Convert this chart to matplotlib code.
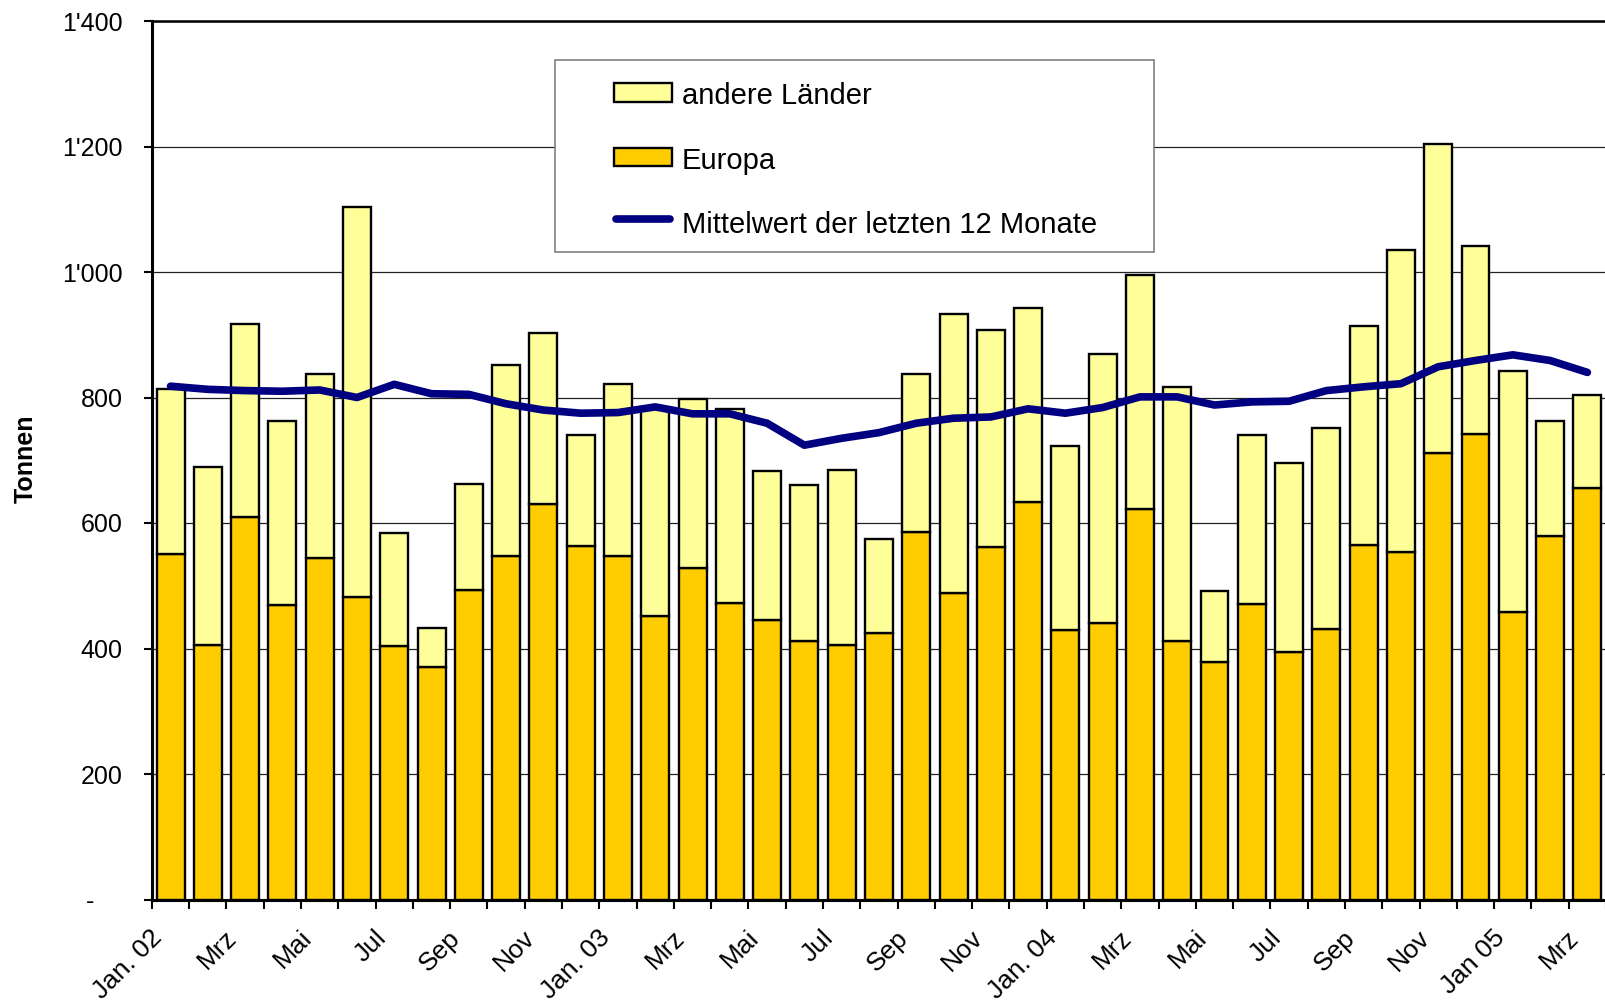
import numpy as np
import matplotlib
matplotlib.use('Agg')
import matplotlib.pyplot as plt
from matplotlib.patches import Rectangle
from matplotlib.lines import Line2D

plt.rcParams['font.family'] = ['Liberation Sans', 'DejaVu Sans']

# ---- data (Jan 2002 .. Mar 2005, tonnes) ----
europa = [550, 405, 609, 469, 544, 482, 404, 371, 493, 547, 631, 563,
          547, 451, 528, 472, 446, 412, 405, 424, 586, 489, 561, 633,
          429, 440, 623, 412, 378, 471, 395, 431, 565, 554, 711, 742,
          458, 580, 655]
andere = [264, 285, 308, 294, 294, 622, 180, 62, 169, 305, 272, 177,
          274, 331, 270, 309, 237, 249, 279, 150, 251, 444, 346, 309,
          293, 429, 373, 405, 114, 269, 301, 320, 349, 481, 493, 299,
          385, 182, 149]
mittelwert = [818, 813, 811, 810, 812, 800, 821, 806, 805, 790, 780, 775,
              776, 785, 774, 774, 759, 724, 735, 744, 759, 767, 769, 782,
              775, 784, 801, 801, 788, 793, 794, 811, 817, 822, 849, 859,
              868, 859, 840]
tick_labels = ['Jan. 02', 'Mrz', 'Mai', 'Jul', 'Sep', 'Nov',
               'Jan. 03', 'Mrz', 'Mai', 'Jul', 'Sep', 'Nov',
               'Jan. 04', 'Mrz', 'Mai', 'Jul', 'Sep', 'Nov',
               'Jan 05', 'Mrz']
y_ticks = [0, 200, 400, 600, 800, 1000, 1200, 1400]
y_tick_labels = ['-    ', '200', '400', '600', '800', "1'000", "1'200", "1'400"]
legend_labels = ['andere Länder', 'Europa', 'Mittelwert der letzten 12 Monate']

C_EUR = '#FFCC00'
C_AND = '#FFFF99'
C_LINE = '#000080'

W, H = 1606, 1006
fig = plt.figure(figsize=(W / 100, H / 100), dpi=100)
x0, yb, yt = 151.9, 899.5, 21.0
cat_w = 37.74
ax = fig.add_axes([x0 / W, 1 - yb / H, 1 - x0 / W, (yb - yt) / H])

x = np.arange(len(europa))
ax.bar(x, europa, width=0.75, color=C_EUR, edgecolor='black', linewidth=1.7, zorder=2)
ax.bar(x, andere, bottom=europa, width=0.75, color=C_AND, edgecolor='black',
       linewidth=1.7, zorder=2)
ax.plot(x, mittelwert, color=C_LINE, lw=5.5, solid_capstyle='round',
        solid_joinstyle='round', zorder=3)

ax.set_xlim(-0.5, -0.5 + (W - x0) / cat_w)
ax.set_ylim(0, 1400)

ax.set_yticks(y_ticks)
ax.set_yticklabels(y_tick_labels)
ax.tick_params(axis='y', length=6, width=1.5, pad=15, labelsize=18, direction='out')
ax.yaxis.grid(True, color='#222222', lw=0.9)
ax.set_axisbelow(True)

ax.set_xticks(np.arange(-0.5, len(europa) + 0.5, 1))
ax.tick_params(axis='x', which='major', length=6.5, width=1.5, labelbottom=False,
               direction='out')
ax.set_xticks(np.arange(0, len(europa), 2) - 0.32, minor=True)
ax.set_xticklabels(tick_labels, minor=True, rotation=45, ha='right', va='center',
                   rotation_mode='anchor', fontsize=19)
ax.tick_params(axis='x', which='minor', length=0, pad=25)

for s in ['left', 'bottom']:
    ax.spines[s].set_linewidth(2.2)
ax.spines['top'].set_linewidth(1.8)
ax.spines['right'].set_visible(False)

ylab = ax.set_ylabel('Tonnen', fontsize=18, fontweight='bold')
ylab.set_rotation_mode('default')
ylab.set_va('center')
ax.yaxis.set_label_coords((25.5 - x0) / (W - x0), (yb - 459) / (yb - yt))

# ---- legend box (figure pixels, y from top) ----
def fx(px):
    return px / W

def fy(py):
    return 1 - py / H

tf = fig.transFigure
fig.add_artist(Rectangle((fx(555), fy(251.5)), fx(1154) - fx(555), fy(60) - fy(251.5),
                         transform=tf, facecolor='white', edgecolor='#808080', lw=1.2,
                         zorder=5))
fig.add_artist(Rectangle((fx(614), fy(102)), fx(672) - fx(614), fy(83) - fy(102),
                         transform=tf, facecolor=C_AND, edgecolor='black', lw=1.7, zorder=6))
fig.add_artist(Rectangle((fx(614), fy(166)), fx(672) - fx(614), fy(148) - fy(166),
                         transform=tf, facecolor=C_EUR, edgecolor='black', lw=1.7, zorder=6))
fig.add_artist(Line2D([fx(616), fx(670)], [fy(219), fy(219)], transform=tf, color=C_LINE,
                      lw=5.5, solid_capstyle='round', zorder=6))
for lab, base in zip(legend_labels, [104, 169, 233]):
    fig.text(fx(682), fy(base), lab, fontsize=21, ha='left', va='baseline', zorder=7)

fig.savefig('out.png', dpi=100)
